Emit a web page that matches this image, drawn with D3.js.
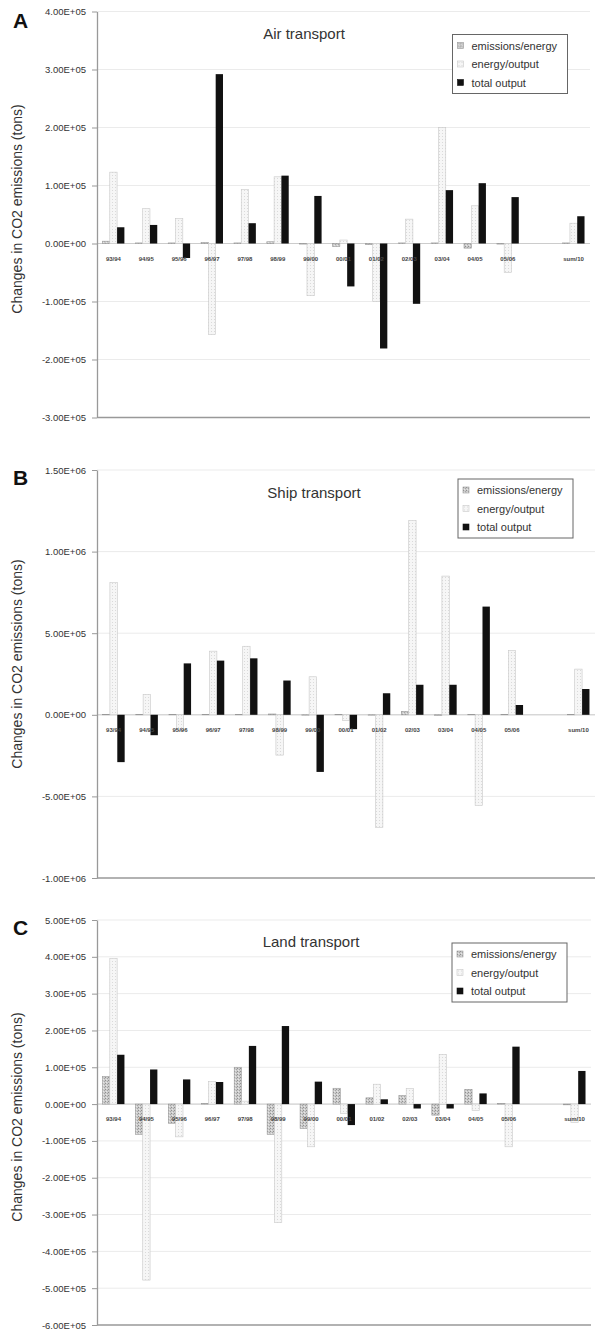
<!DOCTYPE html>
<html>
<head>
<meta charset="utf-8">
<script src="https://cdn.jsdelivr.net/npm/d3@7"></script>
<style>
  body { margin: 0; background: #fff; }
  svg { display: block; font-family: "Liberation Sans", Arial, sans-serif; }
</style>
</head>
<body>
<script>
// categories (one empty slot before the sum, as in the original)
const categories = ["93/94","94/95","95/96","96/97","97/98","98/99","99/00","00/01","01/02","02/03","03/04","04/05","05/06","","sum/10"];
const seriesNames = ["emissions/energy", "energy/output", "total output"];

// A - air transport
const airEmissions = [4e3, 1e3, 1e3, 2e3, 1e3, 3e3, -1e3, -5e3, -2e3, 1e3, 1e3, -8e3, -1e3, null, 1e3];
const airEnergy    = [1.23e5, 0.60e5, 0.43e5, -1.57e5, 0.93e5, 1.15e5, -0.90e5, 0.06e5, -1.00e5, 0.42e5, 2.00e5, 0.65e5, -0.50e5, null, 0.35e5];
const airTotal     = [0.28e5, 0.32e5, -0.25e5, 2.92e5, 0.35e5, 1.17e5, 0.82e5, -0.74e5, -1.81e5, -1.04e5, 0.92e5, 1.04e5, 0.80e5, null, 0.47e5];

// B - ship transport
const shipEmissions = [2e3, 1e3, 2e3, 2e3, 2e3, 5e3, -2e3, 3e3, -2e3, 2e4, -3e3, 1e3, 2e3, null, 3e3];
const shipEnergy    = [8.10e5, 1.25e5, -0.95e5, 3.90e5, 4.20e5, -2.47e5, 2.33e5, -0.35e5, -6.90e5, 11.9e5, 8.50e5, -5.55e5, 3.95e5, null, 2.80e5];
const shipTotal     = [-2.90e5, -1.25e5, 3.15e5, 3.32e5, 3.46e5, 2.10e5, -3.50e5, -0.88e5, 1.32e5, 1.84e5, 1.84e5, 6.63e5, 0.60e5, null, 1.58e5];

// C - land transport
const landEmissions = [0.75e5, -0.82e5, -0.52e5, 2e3, 1.00e5, -0.82e5, -0.66e5, 0.43e5, 0.17e5, 0.23e5, -0.30e5, 0.40e5, 2e3, null, -2e3];
const landEnergy    = [3.95e5, -4.78e5, -0.89e5, 0.61e5, 0.08e5, -3.22e5, -1.16e5, -0.25e5, 0.54e5, 0.42e5, 1.35e5, -0.17e5, -1.16e5, null, -0.50e5];
const landTotal     = [1.34e5, 0.94e5, 0.67e5, 0.60e5, 1.58e5, 2.12e5, 0.61e5, -0.57e5, 0.13e5, -0.12e5, -0.12e5, 0.29e5, 1.56e5, null, 0.90e5];

// y tick values per panel
const airTicks  = [-3e5, -2e5, -1e5, 0, 1e5, 2e5, 3e5, 4e5];
const shipTicks = [-1e6, -5e5, 0, 5e5, 1e6, 1.5e6];
const landTicks = [-6e5, -5e5, -4e5, -3e5, -2e5, -1e5, 0, 1e5, 2e5, 3e5, 4e5, 5e5];

// layout of the three panels
const panels = [
  {letter: "A", title: "Air transport", series: [airEmissions, airEnergy, airTotal], ticks: airTicks,
   top: 11.5, bottom: 417.5, right: 590, titleX: 304, titleY: 33, legX: 452.5, legY: 34.5, labelY: 209, letterY: 28},
  {letter: "B", title: "Ship transport", series: [shipEmissions, shipEnergy, shipTotal], ticks: shipTicks,
   top: 470, bottom: 878, right: 595, titleX: 314, titleY: 492, legX: 458, legY: 479, labelY: 664, letterY: 485},
  {letter: "C", title: "Land transport", series: [landEmissions, landEnergy, landTotal], ticks: landTicks,
   top: 920, bottom: 1325, right: 591, titleX: 311, titleY: 941, legX: 452, legY: 943, labelY: 1117, letterY: 935}
];
const left = 97;

function fmt(v) {
  let s = v.toExponential(2).split("e");
  let e = s[1];
  return s[0] + "E" + e[0] + e.slice(1).padStart(2, "0");
}

const svg = d3.select("body").append("svg").attr("width", 598).attr("height", 1332);
svg.append("rect").attr("width", 598).attr("height", 1332).attr("fill", "#fff");

// bar fill patterns
const defs = svg.append("defs");
let pEm = defs.append("pattern").attr("id", "pEm").attr("width", 3).attr("height", 3).attr("patternUnits", "userSpaceOnUse");
pEm.append("rect").attr("width", 3).attr("height", 3).attr("fill", "#cccccc");
pEm.append("rect").attr("x", 0).attr("y", 0).attr("width", 1).attr("height", 1).attr("fill", "#8f8f8f");
pEm.append("rect").attr("x", 2).attr("y", 1).attr("width", 1).attr("height", 1).attr("fill", "#a5a5a5");
pEm.append("rect").attr("x", 1).attr("y", 2).attr("width", 1).attr("height", 1).attr("fill", "#e6e6e6");
let pEn = defs.append("pattern").attr("id", "pEn").attr("width", 3).attr("height", 3).attr("patternUnits", "userSpaceOnUse");
pEn.append("rect").attr("width", 3).attr("height", 3).attr("fill", "#f6f6f6");
pEn.append("rect").attr("x", 1).attr("y", 1).attr("width", 1).attr("height", 1).attr("fill", "#dadada");

const fills = ["url(#pEm)", "url(#pEn)", "#111"];
const strokes = ["#999", "#c8c8c8", "#111"];

panels.forEach(function(p) {
  const g = svg.append("g");
  const ext = d3.extent(p.ticks);
  const y = d3.scaleLinear().domain(ext).range([p.bottom, p.top]);
  const x0 = d3.scaleBand().domain(categories).range([left, p.right]).paddingInner(1/3).paddingOuter(1/6);
  const x1 = d3.scaleBand().domain([0, 1, 2]).range([0, x0.bandwidth()]);

  // gridlines
  g.selectAll(".grid").data(p.ticks.filter(t => t != ext[0])).enter().append("line")
    .attr("x1", left).attr("x2", p.right)
    .attr("y1", d => y(d)).attr("y2", d => y(d))
    .attr("stroke", "#ebebeb").attr("stroke-width", 1);

  // bottom border
  g.append("line").attr("x1", left).attr("x2", p.right)
    .attr("y1", y(ext[0])).attr("y2", y(ext[0]))
    .attr("stroke", "#999").attr("stroke-width", 1.3);

  // zero line
  g.append("line").attr("x1", left).attr("x2", p.right)
    .attr("y1", y(0)).attr("y2", y(0))
    .attr("stroke", "#cccccc").attr("stroke-width", 1);

  // bars
  for (let s = 0; s < 3; s++) {
    const rows = categories.map((c, i) => ({cat: c, v: p.series[s][i]})).filter(d => d.v != null);
    g.selectAll(".bar" + s).data(rows).enter().append("rect")
      .attr("x", d => x0(d.cat) + x1(s))
      .attr("width", x1.bandwidth())
      .attr("y", d => y(Math.max(0, d.v)))
      .attr("height", d => Math.abs(y(d.v) - y(0)))
      .attr("fill", fills[s])
      .attr("stroke", strokes[s])
      .attr("stroke-width", s == 2 ? 0 : 0.6);
  }

  // category labels, next to the zero line
  g.selectAll(".cat").data(categories.filter(c => c != "")).enter().append("text")
    .attr("x", d => x0(d) + x0.bandwidth() / 2)
    .attr("y", y(0) + 17)
    .attr("text-anchor", "middle")
    .attr("font-size", 6)
    .attr("font-weight", "bold")
    .attr("fill", "#444")
    .text(d => d);

  // y axis
  const ax = g.append("g").attr("transform", "translate(" + left + ",0)")
    .call(d3.axisLeft(y).tickValues(p.ticks).tickFormat(fmt).tickSize(5).tickPadding(6).tickSizeOuter(0));
  ax.select(".domain").attr("stroke", "#999").attr("stroke-width", 1.3);
  ax.selectAll(".tick line").attr("stroke", "#999");
  ax.selectAll(".tick text").attr("font-size", 9.5).attr("fill", "#333")
    .attr("font-family", "'Liberation Sans', Arial, sans-serif");

  // axis title
  g.append("text")
    .attr("transform", "translate(17," + p.labelY + ") rotate(-90)")
    .attr("text-anchor", "middle").attr("dominant-baseline", "central")
    .attr("font-size", 14).attr("fill", "#333")
    .text("Changes in CO2 emissions (tons)");

  // panel letter
  g.append("text").attr("x", 13).attr("y", p.letterY)
    .attr("font-size", 21).attr("font-weight", "bold").attr("fill", "#111")
    .text(p.letter);

  // chart title
  g.append("text").attr("x", p.titleX).attr("y", p.titleY)
    .attr("text-anchor", "middle").attr("dominant-baseline", "central")
    .attr("font-size", 15).attr("fill", "#333")
    .text(p.title);

  // legend
  const lg = g.append("g").attr("transform", "translate(" + p.legX + "," + p.legY + ")");
  lg.append("rect").attr("width", 115).attr("height", 59)
    .attr("fill", "#fff").attr("stroke", "#666").attr("stroke-width", 1);
  const items = lg.selectAll(".item").data(seriesNames).enter().append("g")
    .attr("transform", (d, i) => "translate(5," + (11 + i * 18.5) + ")");
  items.append("rect").attr("x", 0).attr("y", -3).attr("width", 6).attr("height", 6)
    .attr("fill", (d, i) => fills[i]).attr("stroke", (d, i) => strokes[i]).attr("stroke-width", 0.6);
  items.append("text").attr("x", 14).attr("y", 0)
    .attr("dominant-baseline", "central")
    .attr("font-size", 11).attr("fill", "#333")
    .text(d => d);
});
</script>
</body>
</html>
